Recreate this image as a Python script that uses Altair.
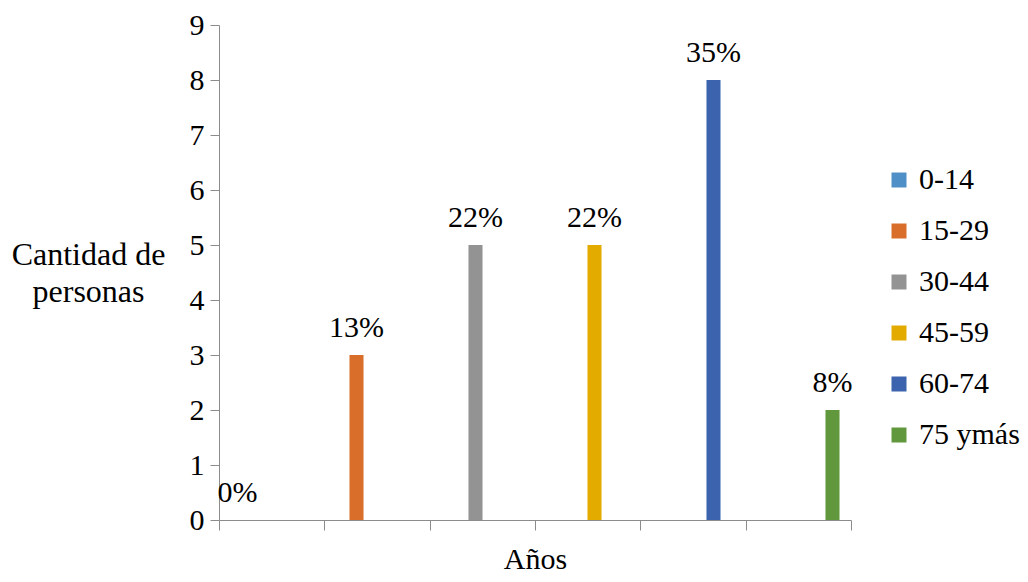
import altair as alt
import pandas as pd

categories = ["0-14", "15-29", "30-44", "45-59", "60-74", "75 ymás"]
values = [0, 3, 5, 5, 8, 2]
labels = ["0%", "13%", "22%", "22%", "35%", "8%"]
colors = ["#4F8FC8", "#D86E2A", "#939393", "#E3AA00", "#3B63AE", "#62983D"]
y_ticks = [0, 1, 2, 3, 4, 5, 6, 7, 8, 9]
x_boundaries = [0, 1, 2, 3, 4, 5, 6]

df = pd.DataFrame({"grupo": categories, "cantidad": values, "pct": labels})
axis_df = pd.DataFrame({"pos": [x_boundaries[0], x_boundaries[-1]]})

FONT = "Liberation Serif"
GRAY = "#8C8C8C"

band = alt.Scale(domain=categories, paddingInner=0.882, paddingOuter=0.0965)

y_enc = alt.Y(
    "cantidad:Q",
    scale=alt.Scale(domain=[0, 9], nice=False),
    axis=alt.Axis(
        values=y_ticks,
        format="d",
        grid=False,
        title=["Cantidad de", "personas"],
        titleAngle=0,
        titleAlign="center",
        titleBaseline="top",
        titleX=-131,
        titleY=214,
        titleFont=FONT,
        titleFontSize=32,
        titleFontWeight="normal",
        titleColor="black",
        titleLineHeight=37,
        labelFont=FONT,
        labelFontSize=30,
        labelColor="black",
        labelPadding=6,
        tickSize=9,
        tickColor=GRAY,
        domainColor=GRAY,
    ),
)

bars = alt.Chart(df).mark_bar().encode(
    x=alt.X("grupo:N", scale=band, sort=categories, axis=None),
    y=y_enc,
    color=alt.Color(
        "grupo:N",
        scale=alt.Scale(domain=categories, range=colors),
        sort=categories,
        legend=alt.Legend(
            title=None,
            orient="none",
            legendX=665,
            legendY=140,
            symbolType="square",
            symbolSize=225,
            symbolStrokeWidth=0,
            labelFont=FONT,
            labelFontSize=30,
            labelColor="black",
            labelOffset=5,
            rowPadding=21,
        ),
    ),
)

text = alt.Chart(df).mark_text(
    font=FONT, fontSize=30, color="black", baseline="alphabetic", dy=-18
).encode(
    x=alt.X("grupo:N", scale=band, sort=categories, axis=None),
    y=alt.Y("cantidad:Q"),
    text="pct:N",
)

axis_layer = alt.Chart(axis_df).mark_point(opacity=0).encode(
    x=alt.X(
        "pos:Q",
        scale=alt.Scale(domain=[0, 6], nice=False),
        axis=alt.Axis(
            orient="bottom",
            values=x_boundaries,
            labels=False,
            grid=False,
            tickSize=10,
            tickColor=GRAY,
            domainColor=GRAY,
            title="Años",
            titleFont=FONT,
            titleFontSize=30,
            titleFontWeight="normal",
            titleColor="black",
            titleBaseline="alphabetic",
            titleY=48,
        ),
    )
)

chart = (
    alt.layer(alt.layer(bars, text), axis_layer)
    .resolve_scale(x="independent")
    .properties(
        width=632,
        height=495,
        autosize=alt.AutoSizeParams(type="none"),
        padding={"left": 211, "top": 17, "right": 169, "bottom": 54},
    )
    .configure(background="white", font=FONT)
    .configure_view(stroke="transparent", strokeWidth=0)
)

chart.save("out.html", embed_options={"renderer": "svg", "actions": False})
